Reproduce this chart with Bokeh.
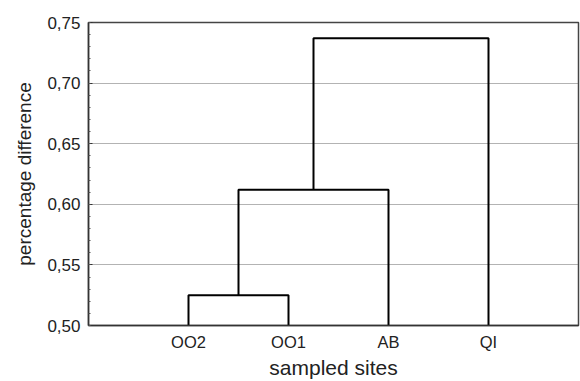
from bokeh.plotting import figure
from bokeh.models import Range1d, FixedTicker, CustomJSTickFormatter
from bokeh.embed import file_html
from bokeh.resources import INLINE

# --- data ---
leaves = ["OO2", "OO1", "AB", "QI"]
# scipy-style linkage: (cluster a, cluster b, height); new clusters numbered after leaves
link_a = [0, 4, 5]
link_b = [1, 2, 3]
link_h = [0.525, 0.612, 0.737]
y_ticks = [0.50, 0.55, 0.60, 0.65, 0.70, 0.75]
x_label = "sampled sites"
y_label = "percentage difference"

# --- build dendrogram segments ---
pos = {i: float(i + 1) for i in range(len(leaves))}
hgt = {i: 0.5 for i in range(len(leaves))}
xs, ys = [], []
for k, (a, b, h) in enumerate(zip(link_a, link_b, link_h)):
    xa, xb = pos[a], pos[b]
    xs.append([xa, xa, xb, xb])
    ys.append([hgt[a], h, h, hgt[b]])
    new = len(leaves) + k
    pos[new] = (xa + xb) / 2
    hgt[new] = h

FONT = "Liberation Sans"
TXT = "#222222"

p = figure(width=580, height=381, output_backend="svg", toolbar_location=None,
           x_range=Range1d(0, 4.9), y_range=Range1d(0.50, 0.75),
           min_border_left=88, min_border_right=2, min_border_top=22, min_border_bottom=55)
p.outline_line_color = "#444444"
p.outline_line_width = 1.5
p.background_fill_color = "white"

p.multi_line(xs=xs, ys=ys, line_color="black", line_width=2)

# grid
p.xgrid.grid_line_color = None
p.ygrid.ticker = FixedTicker(ticks=y_ticks[1:-1])
p.ygrid.grid_line_color = "#666666"
p.ygrid.grid_line_dash = "1 1"
p.ygrid.grid_line_width = 1

# x axis
xa = p.xaxis[0]
xa.ticker = FixedTicker(ticks=[pos[i] for i in range(len(leaves))])
xa.major_label_overrides = {pos[i]: leaves[i] for i in range(len(leaves))}
xa.major_tick_line_color = None
xa.minor_tick_line_color = None
xa.major_tick_out = 0
xa.major_tick_in = 0
xa.minor_tick_out = 0
xa.minor_tick_in = 0
xa.axis_line_color = "#333333"
xa.axis_line_width = 1.5
xa.major_label_text_font = FONT
xa.major_label_text_font_size = "16.5px"
xa.major_label_text_color = TXT
xa.major_label_standoff = 7
xa.axis_label = x_label
xa.axis_label_text_font = FONT
xa.axis_label_text_font_size = "21px"
xa.axis_label_text_font_style = "normal"
xa.axis_label_text_color = TXT
xa.axis_label_standoff = 2

# y axis
ya = p.yaxis[0]
ya.ticker = FixedTicker(ticks=y_ticks, minor_ticks=[0.50 + 0.01 * i for i in range(26)])
ya.formatter = CustomJSTickFormatter(code="return tick.toFixed(2).replace('.', ',');")
ya.major_tick_in = 4
ya.major_tick_out = 0
ya.minor_tick_in = 2
ya.minor_tick_out = 0
ya.major_tick_line_color = "#333333"
ya.minor_tick_line_color = "#555555"
ya.axis_line_color = "#333333"
ya.axis_line_width = 1.5
ya.major_label_text_font = FONT
ya.major_label_text_font_size = "17px"
ya.major_label_text_color = TXT
ya.major_label_standoff = 8
ya.axis_label = y_label
ya.axis_label_text_font = FONT
ya.axis_label_text_font_size = "19px"
ya.axis_label_text_font_style = "normal"
ya.axis_label_text_color = TXT
ya.axis_label_standoff = 9

open("out.html", "w").write(file_html(p, INLINE))
